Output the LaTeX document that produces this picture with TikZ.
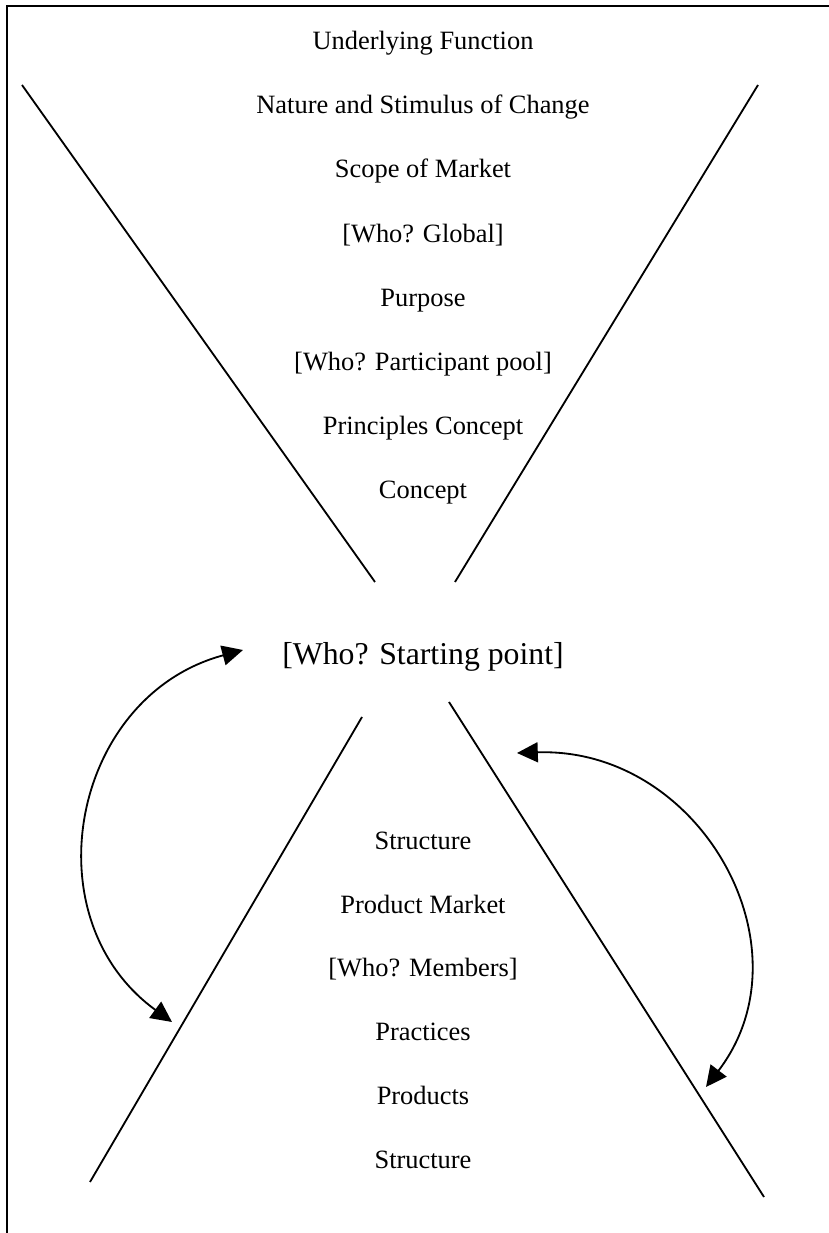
\documentclass[tikz,border=0pt]{standalone}
\usepackage{fontspec}
\setmainfont{Liberation Serif}
\usetikzlibrary{arrows.meta}

\begin{document}
\begin{tikzpicture}[scale=1,
		txt/.style={anchor=base,inner sep=0pt,font=\fontsize{18.8}{22}\selectfont},
		bigtxt/.style={anchor=base,inner sep=0pt,font=\fontsize{22.6}{26}\selectfont},
		funnel/.style={line width=1.3pt},
		swap/.style={line width=1.3pt,
			{Triangle[length=0.52cm,width=0.5cm]}-{Triangle[length=0.52cm,width=0.5cm]}}]
		\useasboundingbox (0,0) rectangle (20.725,30.825);
		% frame
		\draw[line width=2pt] (0.175,0) -- (0.175,30.675) -- (20.725,30.675);
		% upper funnel
		\draw[funnel] (0.55,28.7) -- (9.375,16.275);
		\draw[funnel] (18.95,28.7) -- (11.375,16.275);
		% lower funnel
		\draw[funnel] (9.05,12.9) -- (2.25,1.275);
		\draw[funnel] (11.225,13.275) -- (19.1,0.9);

		% upper texts
		\node[txt] (function) at (10.575,29.585) {Underlying Function};
		\node[txt] (change) at (10.575,27.981) {Nature and Stimulus of Change};
		\node[txt] (scope) at (10.575,26.377) {Scope of Market};
		\node[txt] (global) at (10.575,24.773) {[Who? Global]};
		\node[txt] (purpose) at (10.575,23.169) {Purpose};
		\node[txt] (pool) at (10.575,21.565) {[Who? Participant pool]};
		\node[txt] (principles) at (10.575,19.961) {Principles Concept};
		\node[txt] (concept) at (10.575,18.357) {Concept};

		% centre
		\node[bigtxt] (start) at (10.575,14.2) {[Who? Starting point]};

		% lower texts
		\node[txt] (structure1) at (10.575,9.593) {Structure};
		\node[txt] (market) at (10.575,7.998) {Product Market};
		\node[txt] (members) at (10.575,6.403) {[Who? Members]};
		\node[txt] (practices) at (10.575,4.808) {Practices};
		\node[txt] (products) at (10.575,3.213) {Products};
		\node[txt] (structure2) at (10.575,1.618) {Structure};

		% left arrow
		\coordinate (left1) at (6.075,14.575);
		\coordinate (left2) at (4.3,5.275);
		\draw[swap] (left1) .. controls (1.8,13.425) and (0.725,7.875) .. (left2);

		% right arrow
		\coordinate (right1) at (12.925,12.0);
		\coordinate (right2) at (17.65,3.65);
		\draw[swap] (right1) .. controls (17.5,12.15) and (20.315,7.135) .. (right2);
\end{tikzpicture}
\end{document}
